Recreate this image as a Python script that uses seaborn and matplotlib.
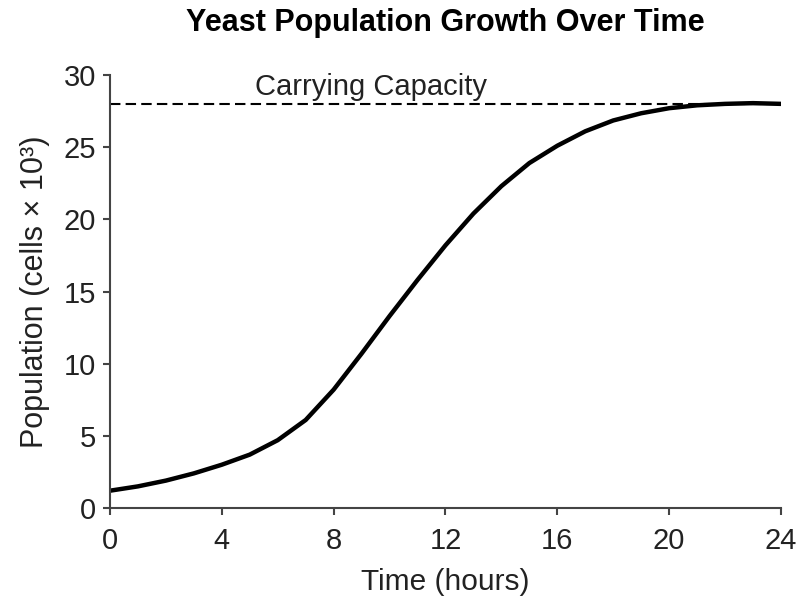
import numpy as np
import pandas as pd
import matplotlib
matplotlib.use("Agg")
import matplotlib.pyplot as plt
import seaborn as sns

# Data (hourly)
hours = [0, 1, 2, 3, 4, 5, 6, 7, 8, 9, 10, 11, 12,
         13, 14, 15, 16, 17, 18, 19, 20, 21, 22, 23, 24]
population = [1.2, 1.5, 1.9, 2.4, 3.0, 3.7, 4.7, 6.1, 8.2, 10.7, 13.3, 15.8, 18.2,
              20.4, 22.3, 23.9, 25.1, 26.1, 26.85, 27.35, 27.7, 27.9, 28.0, 28.05, 28.0]
carrying_capacity = 28
x_ticks = [0, 4, 8, 12, 16, 20, 24]
y_ticks = [0, 5, 10, 15, 20, 25, 30]

sns.set_style("ticks")
plt.rcParams["font.family"] = ["Liberation Sans", "DejaVu Sans"]

df = pd.DataFrame({"hours": hours, "population": population})

fig = plt.figure(figsize=(8.01, 6.0), dpi=100)
ax = fig.add_axes([0.1373, 0.1533, 0.8377, 0.7217])

# carrying capacity line (beneath the curve)
ax.hlines(carrying_capacity, 0, 24, colors="black", linestyles=(0, (5, 2.5)),
          linewidth=1.5, zorder=1)
line = sns.lineplot(data=df, x="hours", y="population", color="black",
                    linewidth=3.2, ax=ax, zorder=2)
for ln in ax.get_lines():
    ln.set_solid_joinstyle("round")
    ln.set_solid_capstyle("round")

ax.text(5.2, carrying_capacity + 0.6, "Carrying Capacity", fontsize=21,
        color="#222222", va="baseline", ha="left")

ax.set_xlim(0, 24)
ax.set_ylim(0, 30)
ax.set_xticks(x_ticks)
ax.set_yticks(y_ticks)
ax.tick_params(axis="both", labelsize=21, labelcolor="#222222", length=5,
               width=1.5, color="#444444")
ax.tick_params(axis="x", pad=9)
ax.tick_params(axis="y", pad=5)
for s in ["left", "bottom"]:
    ax.spines[s].set_linewidth(1.5)
    ax.spines[s].set_color("#444444")
sns.despine(ax=ax)

ax.set_xlabel("Time (hours)", fontsize=21.5, color="#222222", labelpad=9)
ax.set_ylabel("Population (cells × 10³)", fontsize=22, color="#222222", labelpad=10)
ax.set_title("Yeast Population Growth Over Time", fontsize=22, fontweight="bold",
             color="black", pad=32)

fig.savefig("out.png", dpi=100)
